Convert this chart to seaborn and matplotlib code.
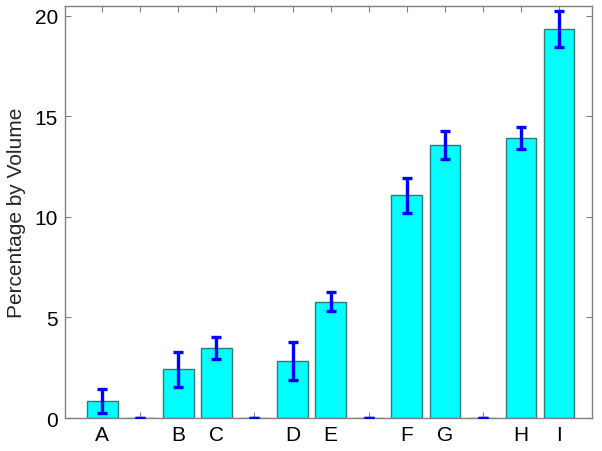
import matplotlib
matplotlib.use("Agg")
import matplotlib.pyplot as plt
import numpy as np
import pandas as pd
import seaborn as sns

# bar data (blank labels are the empty gap slots)
labels = ['A', '', 'B', 'C', '', 'D', 'E', '', 'F', 'G', '', 'H', 'I']
values = [0.85, 0.0, 2.42, 3.50, 0.0, 2.85, 5.77, 0.0, 11.08, 13.58, 0.0, 13.94, 19.34]
errors = [0.60, 0.0, 0.87, 0.55, 0.0, 0.95, 0.47, 0.0, 0.87, 0.68, 0.0, 0.55, 0.89]
positions = list(range(1, len(labels) + 1))

df = pd.DataFrame({'pos': positions, 'val': values})

sns.set_style("ticks")
plt.rcParams['font.family'] = ['Liberation Sans', 'DejaVu Sans']

fig = plt.figure(figsize=(6.02, 4.52), dpi=100)
ax = fig.add_axes([0.108, 0.073, 0.876, 0.911])

sns.barplot(data=df, x='pos', y='val', native_scale=True, width=0.8,
            color='#00ffff', saturation=1, edgecolor='#2f7a7a', linewidth=1,
            errorbar=None, ax=ax)
ax.errorbar(positions, values, yerr=errors, fmt='none', ecolor='#0000ff',
            elinewidth=2.4, capsize=3.3, capthick=2.4, zorder=5)

ax.set_xlim(0.02, 13.88)
ax.set_ylim(0, 20.47)
ax.set_xticks(positions)
ax.set_xticklabels(labels)
ax.set_yticks([0, 5, 10, 15, 20])
ax.set_xlabel('')
ax.set_ylabel('Percentage by Volume', fontsize=15, labelpad=6)

ax.tick_params(axis='both', direction='in', length=4, width=0.8, color='#808080',
               labelsize=15, top=True, right=True, labelcolor='black', pad=5)
for sp in ax.spines.values():
    sp.set_visible(True)
    sp.set_color('#808080')
    sp.set_linewidth(1)

fig.savefig('out.png', dpi=100)
